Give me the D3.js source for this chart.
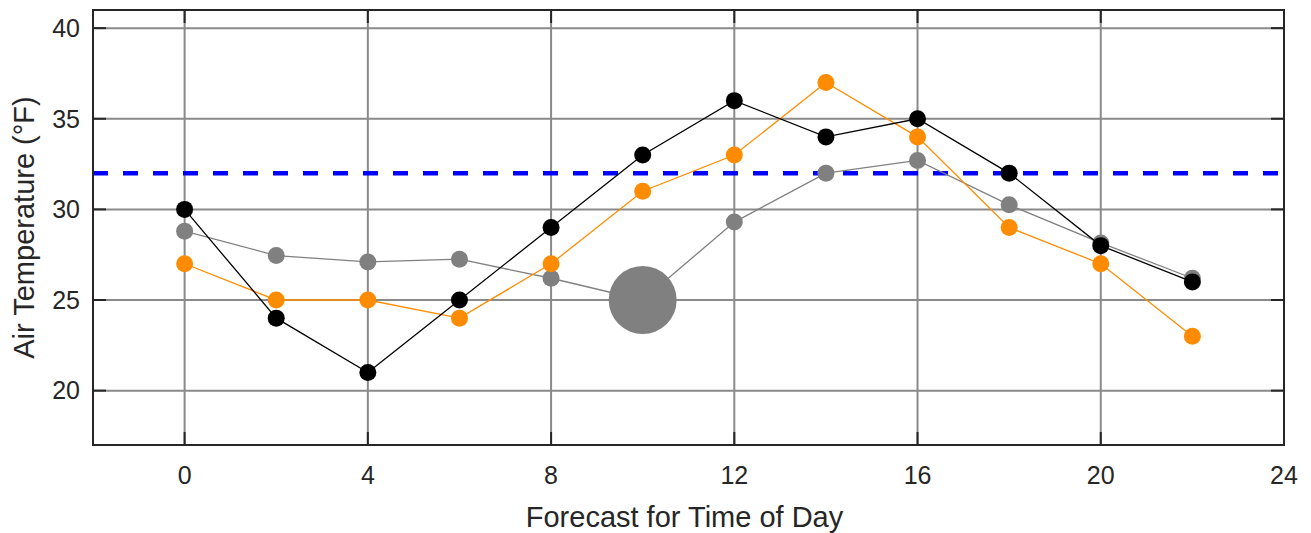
<!DOCTYPE html>
<html><head><meta charset="utf-8">
<script src="https://cdn.jsdelivr.net/npm/d3@7"></script>
<style>body{margin:0;background:#fff}svg{display:block}</style>
</head><body>
<svg id="c" width="1311" height="533"></svg>
<script>
const hours = [0,2,4,6,8,10,12,14,16,18,20,22];
const blackTemps  = [30,24,21,25,29,33,36,34,35,32,28,26];
const orangeTemps = [27,25,25,24,27,31,33,37,34,29,27,23];
const grayTemps   = [28.8,27.45,27.1,27.25,26.2,25,29.3,32,32.7,30.25,28.15,26.2];
const bigPointIndex = 5;
const freezing = 32;
const xTicks = [0,4,8,12,16,20,24];
const yTicks = [20,25,30,35,40];
const xLabel = "Forecast for Time of Day";
const yLabel = "Air Temperature (°F)";

const svg = d3.select("#c");
const L=93, R=1284, T=10, B=445;
const x = d3.scaleLinear().domain([-2,24]).range([L,R]);
const y = d3.scaleLinear().domain([17,41]).range([B,T]);
const font = "'Liberation Sans', Arial, Helvetica, sans-serif";
const dark = "#262626";

// grid
const g = svg.append("g");
g.selectAll(".gx").data(xTicks).join("line")
  .attr("x1",d=>x(d)).attr("x2",d=>x(d)).attr("y1",T).attr("y2",B)
  .attr("stroke","#8a8a8a").attr("stroke-width",2);
g.selectAll(".gy").data(yTicks).join("line")
  .attr("x1",L).attr("x2",R).attr("y1",d=>y(d)).attr("y2",d=>y(d))
  .attr("stroke","#8a8a8a").attr("stroke-width",2);

// freezing line
svg.append("line").attr("x1",x(-2)).attr("x2",x(24))
  .attr("y1",y(freezing)).attr("y2",y(freezing))
  .attr("stroke","#0000ff").attr("stroke-width",4.5).attr("stroke-dasharray","15,15");

// series
const line = d3.line().x((d,i)=>x(hours[i])).y(d=>y(d));
function series(vals,color,big){
  svg.append("path").datum(vals).attr("d",line).attr("fill","none")
    .attr("stroke",color).attr("stroke-width",1.3);
  svg.append("g").selectAll("circle").data(vals).join("circle")
    .attr("cx",(d,i)=>x(hours[i])).attr("cy",d=>y(d))
    .attr("r",(d,i)=> big && i===bigPointIndex ? 34 : 8.5)
    .attr("fill",color);
}
series(grayTemps,"#808080",true);
series(orangeTemps,"#ff8c00",false);
series(blackTemps,"#000000",false);

// axes box
svg.append("rect").attr("x",L).attr("y",T).attr("width",R-L).attr("height",B-T)
  .attr("fill","none").attr("stroke",dark).attr("stroke-width",2);
const tk = 13;
const ax = svg.append("g").attr("stroke",dark).attr("stroke-width",2);
xTicks.forEach(d=>{
  ax.append("line").attr("x1",x(d)).attr("x2",x(d)).attr("y1",B).attr("y2",B-tk);
  ax.append("line").attr("x1",x(d)).attr("x2",x(d)).attr("y1",T).attr("y2",T+tk);
});
yTicks.forEach(d=>{
  ax.append("line").attr("x1",L).attr("x2",L+tk).attr("y1",y(d)).attr("y2",y(d));
  ax.append("line").attr("x1",R).attr("x2",R-tk).attr("y1",y(d)).attr("y2",y(d));
});

// tick labels
svg.append("g").selectAll("text").data(xTicks).join("text")
  .attr("x",d=>x(d)).attr("y",484).attr("text-anchor","middle")
  .attr("font-family",font).attr("font-size",25).attr("fill",dark).text(d=>d);
svg.append("g").selectAll("text").data(yTicks).join("text")
  .attr("x",80).attr("y",d=>y(d)).attr("dy","0.35em").attr("text-anchor","end")
  .attr("font-family",font).attr("font-size",25).attr("fill",dark).text(d=>d);

// axis labels
svg.append("text").attr("x",(L+R)/2-4).attr("y",527).attr("text-anchor","middle")
  .attr("font-family",font).attr("font-size",29).attr("fill",dark).text(xLabel);
svg.append("text").attr("transform",`translate(34,${(T+B)/2}) rotate(-90)`)
  .attr("text-anchor","middle").attr("font-family",font).attr("font-size",29)
  .attr("fill",dark).text(yLabel);
</script>
</body></html>
